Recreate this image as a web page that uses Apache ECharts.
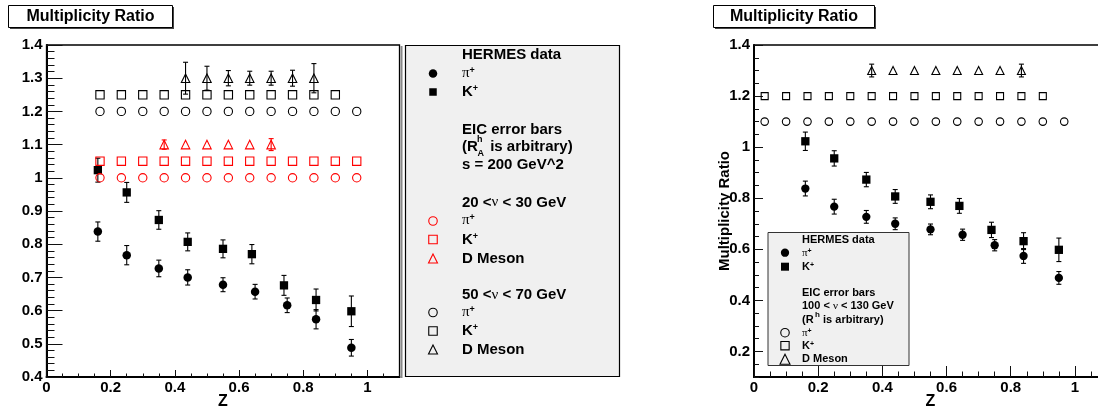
<!DOCTYPE html>
<html><head><meta charset="utf-8">
<script src="https://cdn.jsdelivr.net/npm/echarts@6/dist/echarts.min.js"></script>
<style>html,body{margin:0;padding:0;background:#fff}#c{width:1098px;height:410px}</style>
</head><body><div id="c"></div>
<script>
// ---------------- data ----------------
// HERMES data (same in both panels)
const hermesPiZ   = [0.16, 0.25, 0.35, 0.44, 0.55, 0.65, 0.75, 0.84, 0.95];
const hermesPiR   = [0.838, 0.767, 0.727, 0.700, 0.678, 0.657, 0.616, 0.574, 0.488];
const hermesPiErr = [0.029, 0.029, 0.025, 0.023, 0.021, 0.022, 0.022, 0.029, 0.025];
const hermesKZ    = [0.16, 0.25, 0.35, 0.44, 0.55, 0.64, 0.74, 0.84, 0.95];
const hermesKR    = [1.023, 0.956, 0.873, 0.807, 0.786, 0.770, 0.676, 0.632, 0.598];
const hermesKErr  = [0.036, 0.030, 0.028, 0.027, 0.027, 0.029, 0.030, 0.033, 0.046];

// Left panel: EIC s = 200 GeV^2
const lowPiZ  = [0.1667, 0.2333, 0.3, 0.3667, 0.4333, 0.5, 0.5667, 0.6333, 0.7, 0.7667, 0.8333, 0.9, 0.9667];
const lowPiR  = [1.0, 1.0, 1.0, 1.0, 1.0, 1.0, 1.0, 1.0, 1.0, 1.0, 1.0, 1.0, 1.0];
const lowKZ   = [0.1667, 0.2333, 0.3, 0.3667, 0.4333, 0.5, 0.5667, 0.6333, 0.7, 0.7667, 0.8333, 0.9, 0.9667];
const lowKR   = [1.05, 1.05, 1.05, 1.05, 1.05, 1.05, 1.05, 1.05, 1.05, 1.05, 1.05, 1.05, 1.05];
const lowDZ   = [0.3667, 0.4333, 0.5, 0.5667, 0.6333, 0.7];
const lowDR   = [1.1, 1.1, 1.1, 1.1, 1.1, 1.1];
const lowDErr = [0.014, 0.004, 0.004, 0.004, 0.004, 0.018];
const highPiZ = [0.1667, 0.2333, 0.3, 0.3667, 0.4333, 0.5, 0.5667, 0.6333, 0.7, 0.7667, 0.8333, 0.9, 0.9667];
const highPiR = [1.2, 1.2, 1.2, 1.2, 1.2, 1.2, 1.2, 1.2, 1.2, 1.2, 1.2, 1.2, 1.2];
const highKZ  = [0.1667, 0.2333, 0.3, 0.3667, 0.4333, 0.5, 0.5667, 0.6333, 0.7, 0.7667, 0.8333, 0.9];
const highKR  = [1.25, 1.25, 1.25, 1.25, 1.25, 1.25, 1.25, 1.25, 1.25, 1.25, 1.25, 1.25];
const highDZ  = [0.4333, 0.5, 0.5667, 0.6333, 0.7, 0.7667, 0.8333];
const highDR  = [1.3, 1.3, 1.3, 1.3, 1.3, 1.3, 1.3];
const highDErr= [0.048, 0.036, 0.023, 0.021, 0.021, 0.024, 0.044];

// Right panel: EIC 100 < nu < 130 GeV
const eicPiZ  = [0.0333, 0.1, 0.1667, 0.2333, 0.3, 0.3667, 0.4333, 0.5, 0.5667, 0.6333, 0.7, 0.7667, 0.8333, 0.9, 0.9667];
const eicPiR  = [1.1, 1.1, 1.1, 1.1, 1.1, 1.1, 1.1, 1.1, 1.1, 1.1, 1.1, 1.1, 1.1, 1.1, 1.1];
const eicKZ   = [0.0333, 0.1, 0.1667, 0.2333, 0.3, 0.3667, 0.4333, 0.5, 0.5667, 0.6333, 0.7, 0.7667, 0.8333, 0.9];
const eicKR   = [1.2, 1.2, 1.2, 1.2, 1.2, 1.2, 1.2, 1.2, 1.2, 1.2, 1.2, 1.2, 1.2, 1.2];
const eicDZ   = [0.3667, 0.4333, 0.5, 0.5667, 0.6333, 0.7, 0.7667, 0.8333];
const eicDR   = [1.3, 1.3, 1.3, 1.3, 1.3, 1.3, 1.3, 1.3];
const eicDErr = [0.025, 0.017, 0.017, 0.004, 0.004, 0.017, 0.004, 0.025];

// tick labels
const xTickLabels      = [0, 0.2, 0.4, 0.6, 0.8, 1];
const leftYTickLabels  = [0.4, 0.5, 0.6, 0.7, 0.8, 0.9, 1, 1.1, 1.2, 1.3, 1.4];
const rightYTickLabels = [0.2, 0.4, 0.6, 0.8, 1, 1.2, 1.4];

// ---------------- helpers ----------------
const FONT  = "'Liberation Sans', Arial, Helvetica, sans-serif";
const SERIF = "'Liberation Serif', 'DejaVu Serif', serif";
const RED = '#ff0000';

function steps(a, b, s) { const out = []; for (let v = a; v <= b + 1e-9; v += s) out.push(Math.round(v * 1000) / 1000); return out; }
function pts(zs, rs) { return zs.map((z, i) => [z, rs[i]]); }
function errs(zs, rs, es) { return zs.map((z, i) => [z, rs[i], es[i]]); }
function fmt(v) { if (Math.abs(v) < 1e-9) return '0'; if (Math.abs(v - 1) < 1e-9) return '1'; return v.toFixed(1); }

const labelStyle = { fontFamily: FONT, fontWeight: 'bold', fontSize: 15, color: '#000' };
const tickLine = { color: '#111', width: 1 };

function majorX(grid, tickLen) {
  return {
    type: 'value', gridIndex: grid, min: 0, max: 1.1, position: 'bottom',
    axisLine: { show: true, onZero: false, lineStyle: { color: '#000', width: 2 } },
    axisTick: { show: true, inside: true, length: tickLen, customValues: xTickLabels, lineStyle: tickLine },
    axisLabel: Object.assign({ show: true, customValues: xTickLabels, formatter: fmt, margin: 3 }, labelStyle),
    splitLine: { show: false },
    name: 'Z', nameLocation: 'middle', nameGap: 17, nameMoveOverlap: false,
    nameTextStyle: { fontFamily: FONT, fontWeight: 'bold', fontSize: 16, color: '#000' }
  };
}
function minorX(grid, tickLen) {
  return {
    type: 'value', gridIndex: grid, min: 0, max: 1.1, position: 'bottom',
    axisLine: { show: false, onZero: false },
    axisTick: { show: true, inside: true, length: tickLen, customValues: steps(0.05, 1.1, 0.05), lineStyle: tickLine },
    axisLabel: { show: false }, splitLine: { show: false }
  };
}
function majorY(grid, min, max, labels, tickLen, name) {
  const ax = {
    type: 'value', gridIndex: grid, min: min, max: max, position: 'left',
    axisLine: { show: true, onZero: false, lineStyle: { color: '#000', width: 2 } },
    axisTick: { show: true, inside: true, length: tickLen, customValues: labels, lineStyle: tickLine },
    axisLabel: Object.assign({ show: true, customValues: labels, formatter: fmt, margin: 4 }, labelStyle),
    splitLine: { show: false }
  };
  if (name) {
    ax.name = name; ax.nameLocation = 'middle'; ax.nameGap = 22; ax.nameRotate = 90; ax.nameMoveOverlap = false;
    ax.nameTextStyle = { fontFamily: FONT, fontWeight: 'bold', fontSize: 15, color: '#000' };
  }
  return ax;
}
function minorY(grid, min, max, step, tickLen) {
  return {
    type: 'value', gridIndex: grid, min: min, max: max, position: 'left',
    axisLine: { show: false, onZero: false },
    axisTick: { show: true, inside: true, length: tickLen, customValues: steps(min, max, step), lineStyle: tickLine },
    axisLabel: { show: false }, splitLine: { show: false }
  };
}

function scatter(xi, yi, data, symbol, size, filled, color) {
  return {
    type: 'scatter', xAxisIndex: xi, yAxisIndex: yi, data: data,
    symbol: symbol, symbolSize: size, z: 5, silent: true,
    itemStyle: filled ? { color: color, borderWidth: 0, opacity: 1 }
                      : { color: 'rgba(0,0,0,0)', borderColor: color, borderWidth: 1.1, opacity: 1 }
  };
}
function errorBars(xi, yi, data, color) {
  return {
    type: 'custom', xAxisIndex: xi, yAxisIndex: yi, data: data, z: 4, silent: true, clip: false,
    renderItem: function (params, api) {
      const x = api.value(0), y = api.value(1), e = api.value(2);
      const top = api.coord([x, y + e]), bot = api.coord([x, y - e]);
      // bars hidden inside the marker are not drawn (as in the original)
      if (Math.abs(bot[1] - top[1]) / 2 < 4.5) return { type: 'group', children: [] };
      const w = 2.5, st = { stroke: color, lineWidth: 1.1 };
      return { type: 'group', children: [
        { type: 'line', shape: { x1: top[0], y1: top[1], x2: bot[0], y2: bot[1] }, style: st },
        { type: 'line', shape: { x1: top[0] - w, y1: top[1], x2: top[0] + w, y2: top[1] }, style: st },
        { type: 'line', shape: { x1: bot[0] - w, y1: bot[1], x2: bot[0] + w, y2: bot[1] }, style: st }
      ]};
    }
  };
}

// ---------- legend graphics ----------
function T(x, y, text, size, opts) {
  const st = Object.assign({ text: text, x: x, y: y, fontFamily: FONT, fontWeight: 'bold', fontSize: size,
    fill: '#000', align: 'left', verticalAlign: 'middle' }, opts || {});
  return { type: 'text', z: 100, style: st };
}
function particle(x, y, base, size, serif) {
  return T(x, y, '{b|' + base + '}{s|+}', size, { rich: {
    b: { fontFamily: serif ? SERIF : FONT, fontWeight: serif ? 'normal' : 'bold', fontSize: size },
    s: { fontFamily: FONT, fontWeight: 'bold', fontSize: Math.round(size * 0.6), verticalAlign: 'top' }
  }});
}
function nuText(x, y, a, b, size) {
  return T(x, y, '{b|' + a + '}{n|ν}{b|' + b + '}', size, { rich: {
    b: { fontFamily: FONT, fontWeight: 'bold', fontSize: size },
    n: { fontFamily: SERIF, fontWeight: 'normal', fontSize: size }
  }});
}
function mCircle(x, y, d, color, filled) {
  return { type: 'circle', z: 100, shape: { cx: x, cy: y, r: d / 2 },
    style: filled ? { fill: color } : { fill: 'none', stroke: color, lineWidth: 1.1 } };
}
function mRect(x, y, d, color, filled) {
  return { type: 'rect', z: 100, shape: { x: x - d / 2, y: y - d / 2, width: d, height: d },
    style: filled ? { fill: color } : { fill: 'none', stroke: color, lineWidth: 1.1 } };
}
function mTri(x, y, d, color) {
  return { type: 'polygon', z: 100, shape: { points: [[x, y - d / 2], [x + d / 2, y + d / 2], [x - d / 2, y + d / 2]] },
    style: { fill: 'none', stroke: color, lineWidth: 1.1 } };
}
function titleBox(x, y, w, h, text) {
  return [
    { type: 'rect', z: 100, shape: { x: x + 1.5, y: y + 1.5, width: w, height: h }, style: { fill: '#444' } },
    { type: 'rect', z: 100, shape: { x: x, y: y, width: w, height: h }, style: { fill: '#fff', stroke: '#000', lineWidth: 1 } },
    T(x + w / 2, y + h / 2 + 0.5, text, 16, { align: 'center' })
  ];
}

const LX = 433, LT = 462, LS = 15;
const leftLegend = [
  { type: 'rect', z: 99, shape: { x: 405.5, y: 45.5, width: 214, height: 331 }, style: { fill: '#f0f0f0', stroke: '#000', lineWidth: 1.2 } },
  T(LT, 55, 'HERMES data', LS),
  mCircle(LX, 73.5, 8.5, '#000', true), particle(LT, 73.5, 'π', LS, true),
  mRect(LX, 92, 7.5, '#000', true), particle(LT, 92, 'K', LS, false),
  T(LT, 130, 'EIC error bars', LS),
  T(LT, 146.5, '(R', LS), T(477, 139.5, 'h', 9), T(477.5, 153.5, 'A', 9), T(486, 146.5, ' is arbitrary)', LS),
  T(LT, 165, 's = 200 GeV^2', LS),
  nuText(LT, 202.5, '20 <', ' < 30 GeV', LS),
  mCircle(LX, 221, 8.5, RED, false), particle(LT, 220.5, 'π', LS, true),
  mRect(LX, 239.5, 8.5, RED, false), particle(LT, 239.5, 'K', LS, false),
  mTri(LX, 258.5, 9, RED), T(LT, 258.5, 'D Meson', LS),
  nuText(LT, 295, '50 <', ' < 70 GeV', LS),
  mCircle(LX, 312.5, 8.5, '#000', false), particle(LT, 312.5, 'π', LS, true),
  mRect(LX, 331, 8.5, '#000', false), particle(LT, 331, 'K', LS, false),
  mTri(LX, 349.5, 9, '#000'), T(LT, 349.5, 'D Meson', LS)
];
const RX = 785, RT = 802, RS = 11;
const rightLegend = [
  { type: 'rect', z: 99, shape: { x: 768, y: 232.5, width: 141, height: 133 }, style: { fill: '#f0f0f0', stroke: '#333', lineWidth: 1 } },
  T(RT, 239.5, 'HERMES data', RS),
  mCircle(RX, 252.7, 8.3, '#000', true), particle(RT, 252.7, 'π', RS, true),
  mRect(RX, 266.7, 8, '#000', true), particle(RT, 266.7, 'K', RS, false),
  T(RT, 292.7, 'EIC error bars', RS),
  nuText(RT, 306, '100 < ', ' < 130 GeV', RS),
  T(RT, 319.5, '(R', RS), T(815, 315, 'h', 8), T(820, 319.5, ' is arbitrary)', RS),
  mCircle(RX, 332.7, 8.5, '#000', false), particle(RT, 332.7, 'π', RS, true),
  mRect(RX, 345.7, 8.3, '#000', false), particle(RT, 345.7, 'K', RS, false),
  mTri(RX, 359.3, 10, '#000'), T(RT, 359.3, 'D Meson', RS)
];

const graphics = [].concat(
  titleBox(8.5, 5.5, 164, 22, 'Multiplicity Ratio'),
  titleBox(713.5, 5.5, 161, 22, 'Multiplicity Ratio'),
  [{ type: 'line', z: 98, shape: { x1: 401.5, y1: 46, x2: 401.5, y2: 378 }, style: { stroke: '#888', lineWidth: 2 } }],
  leftLegend, rightLegend
);

// ---------------- chart ----------------
const chart = echarts.init(document.getElementById('c'), null, { renderer: 'canvas' });
chart.setOption({
  animation: false,
  backgroundColor: '#fff',
  grid: [
    { left: 46.5, top: 45, width: 353, height: 332, show: true, borderColor: '#000', borderWidth: 1.3,
      containLabel: false, outerBoundsMode: 'none' },
    { left: 754, top: 45, width: 353, height: 332, show: true, borderColor: '#000', borderWidth: 1.3,
      containLabel: false, outerBoundsMode: 'none' }
  ],
  xAxis: [ majorX(0, 7), minorX(0, 3.5), majorX(1, 11), minorX(1, 5.5) ],
  yAxis: [
    majorY(0, 0.4, 1.4, leftYTickLabels, 16, null), minorY(0, 0.4, 1.4, 0.02, 8),
    majorY(1, 0.1, 1.4, rightYTickLabels, 9, 'Multiplicity Ratio'), minorY(1, 0.1, 1.4, 0.05, 5)
  ],
  graphic: { elements: graphics },
  series: [
    // left panel
    errorBars(0, 0, errs(hermesPiZ, hermesPiR, hermesPiErr), '#000'),
    errorBars(0, 0, errs(hermesKZ, hermesKR, hermesKErr), '#000'),
    errorBars(0, 0, errs(lowDZ, lowDR, lowDErr), RED),
    errorBars(0, 0, errs(highDZ, highDR, highDErr), '#000'),
    scatter(0, 0, pts(hermesPiZ, hermesPiR), 'circle', 8.5, true, '#000'),
    scatter(0, 0, pts(hermesKZ, hermesKR), 'rect', 8.3, true, '#000'),
    scatter(0, 0, pts(lowPiZ, lowPiR), 'circle', 8.3, false, RED),
    scatter(0, 0, pts(lowKZ, lowKR), 'rect', 8.3, false, RED),
    scatter(0, 0, pts(lowDZ, lowDR), 'triangle', 8.5, false, RED),
    scatter(0, 0, pts(highPiZ, highPiR), 'circle', 8.3, false, '#000'),
    scatter(0, 0, pts(highKZ, highKR), 'rect', 8.3, false, '#000'),
    scatter(0, 0, pts(highDZ, highDR), 'triangle', 8.5, false, '#000'),
    // right panel
    errorBars(2, 2, errs(hermesPiZ, hermesPiR, hermesPiErr), '#000'),
    errorBars(2, 2, errs(hermesKZ, hermesKR, hermesKErr), '#000'),
    errorBars(2, 2, errs(eicDZ, eicDR, eicDErr), '#000'),
    scatter(2, 2, pts(hermesPiZ, hermesPiR), 'circle', 8.3, true, '#000'),
    scatter(2, 2, pts(hermesKZ, hermesKR), 'rect', 8.3, true, '#000'),
    scatter(2, 2, pts(eicPiZ, eicPiR), 'circle', 7.5, false, '#000'),
    scatter(2, 2, pts(eicKZ, eicKR), 'rect', 7, false, '#000'),
    scatter(2, 2, pts(eicDZ, eicDR), 'triangle', 8, false, '#000')
  ]
});
</script>
</body></html>
